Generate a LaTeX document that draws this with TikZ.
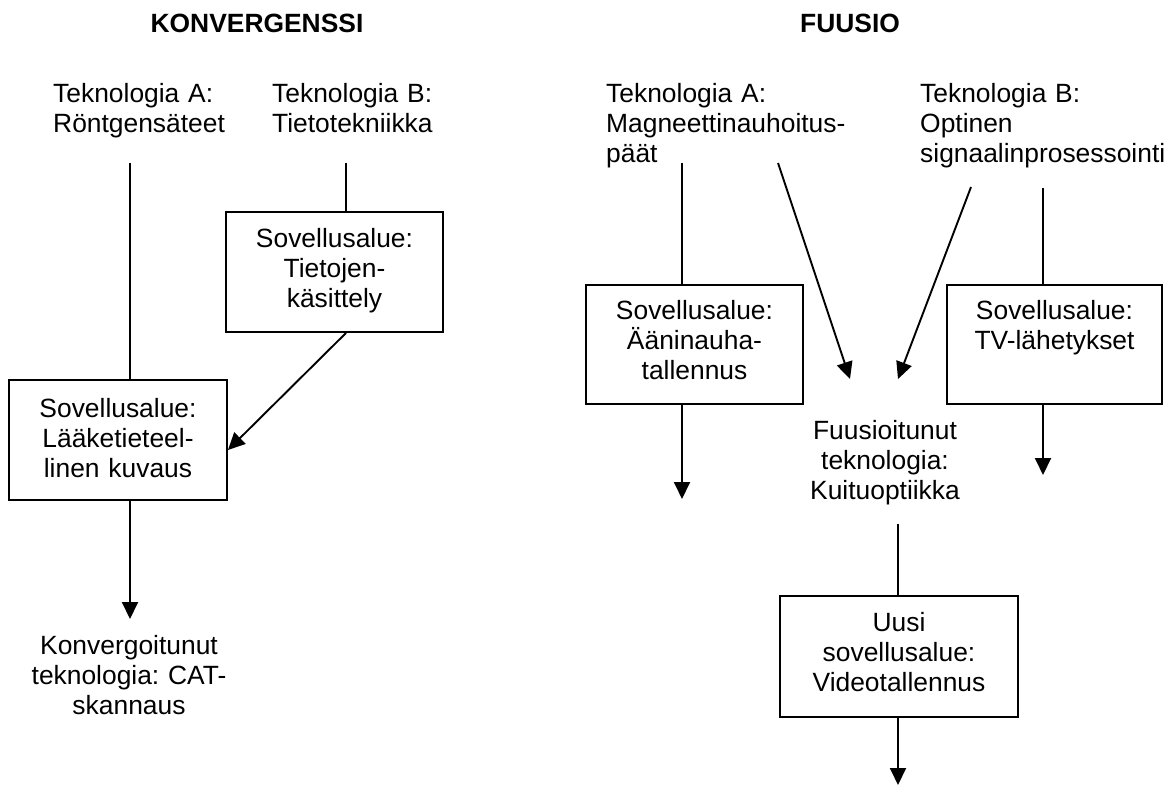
\documentclass[tikz,border=0pt]{standalone}
\usepackage{fontspec}
\setmainfont{Liberation Sans}
\usetikzlibrary{arrows.meta}
\frenchspacing
\begin{document}
\begin{tikzpicture}[x=1pt,y=-1pt,
  every node/.style={font=\fontsize{26.4}{30}\selectfont\frenchspacing, inner sep=0pt},
  lbl/.style={align=left, text width=280pt, anchor=base west},
  clbl/.style={align=center, text width=240pt, anchor=base},
  head/.style={font=\fontsize{26.4}{30}\selectfont\bfseries, anchor=base},
  sbox/.style={draw, line width=1.9pt, align=center, anchor=base},
  conn/.style={line width=1.9pt},
  arr/.style={conn, -{Triangle[length=17pt,width=16pt]}}
]
\useasboundingbox (0,0) rectangle (1170,785);

% headings
\node[head] (hk) at (257,32) {KONVERGENSSI};
\node[head] (hf) at (850,32) {FUUSIO};

% technology labels
\node[lbl] (ka) at (53,102) {Teknologia A:\\Röntgensäteet};
\node[lbl] (kb) at (272,102) {Teknologia B:\\Tietotekniikka};
\node[lbl] (fa) at (606,102) {Teknologia A:\\Magneettinauhoitus-\\päät};
\node[lbl] (fb) at (920,102) {Teknologia B:\\Optinen\\signaalinprosessointi};

% boxes
\node[sbox, text width=217pt, text height=35pt, text depth=85pt] (tj) at (334.5,247) {Sovellusalue:\\Tietojen-\\käsittely};
\node[sbox, text width=218pt, text height=37pt, text depth=83pt] (lk) at (118,417) {Sovellusalue:\\Lääketieteel-\\linen kuvaus};
\node[sbox, text width=217pt, text height=34pt, text depth=85pt] (aa) at (694.5,319) {Sovellusalue:\\Ääninauha-\\tallennus};
\node[sbox, text width=215pt, text height=34pt, text depth=85pt] (tv) at (1054.5,319) {Sovellusalue:\\TV-lähetykset};
\node[sbox, text width=238pt, text height=35pt, text depth=86pt] (uu) at (899,631) {Uusi\\sovellusalue:\\Videotallennus};

% result labels
\node[clbl] (kc) at (129,654) {Konvergoitunut\\teknologia: CAT-\\skannaus};
\node[clbl] (fu) at (885,439) {Fuusioitunut\\teknologia:\\Kuituoptiikka};

% free ends
\coordinate (ka0) at (130,163);
\coordinate (kb0) at (346,163);
\coordinate (kc0) at (130,619);
\coordinate (fa0) at (682,163);
\coordinate (fa1) at (778,163);
\coordinate (fb1) at (971,187);
\coordinate (fb0) at (1043,188);
\coordinate (fu1) at (850,379);
\coordinate (fu2) at (898,379);
\coordinate (aa1) at (682,499);
\coordinate (tv1) at (1043,475);
\coordinate (fu0) at (898,524);
\coordinate (uu1) at (898,785);

% connectors: convergence
\draw[conn] (ka0) -- (ka0 |- lk.north);
\draw[conn] (kb0) -- (kb0 |- tj.north);
\draw[arr] (kb0 |- tj.south) -- ([yshift=-10pt]lk.east);
\draw[arr] (lk.south -| ka0) -- (kc0);

% connectors: fusion
\draw[conn] (fa0) -- (fa0 |- aa.north);
\draw[arr] (aa.south -| fa0) -- (aa1);
\draw[arr] (fa1) -- (fu1);
\draw[arr] (fb1) -- (fu2);
\draw[conn] (fb0) -- (fb0 |- tv.north);
\draw[arr] (tv.south -| fb0) -- (tv1);
\draw[conn] (fu0) -- (uu.north -| fu0);
\draw[arr] (uu.south -| fu0) -- (uu1);
\end{tikzpicture}
\end{document}
